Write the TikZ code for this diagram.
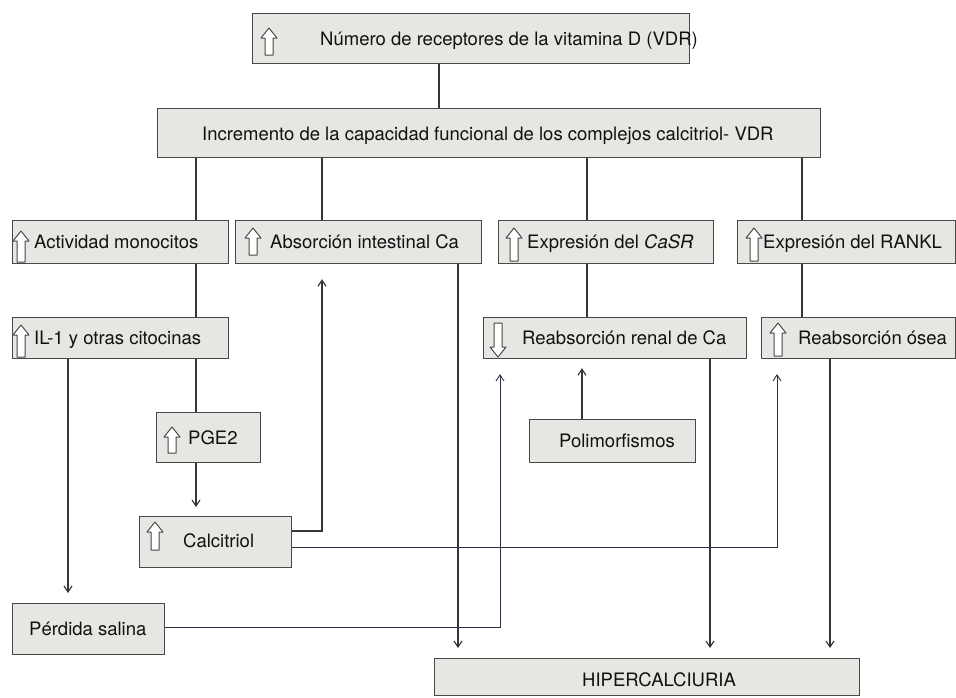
\documentclass[tikz,border=0pt]{standalone}
\usepackage{fontspec}
\setmainfont{TeX Gyre Heros}
\usetikzlibrary{arrows.meta}
\definecolor{boxfill}{HTML}{E8E6E3}
\definecolor{boxline}{HTML}{474747}
\definecolor{conncol}{HTML}{35373D}
\definecolor{navycol}{HTML}{2A3042}
\definecolor{txtcol}{HTML}{111111}
\begin{document}
\begin{tikzpicture}[x=1pt,y=-1pt,
  box/.style={draw=boxline, line width=1.2pt, fill=boxfill, anchor=north west, inner sep=0pt},
  lbl/.style={anchor=base west, inner sep=0pt, text=txtcol, font=\fontsize{18.5}{22}\selectfont},
  conn/.style={draw=conncol, line width=1.15pt},
  navy/.style={draw=navycol, line width=0.9pt},
  arr/.style={conn, -{Straight Barb[length=6pt,width=8pt]}},
  icon/.style={draw=boxline, line width=1pt, fill=white, line join=round},
  pics/upicon/.style={code={\draw[icon] (8,0) -- (16,10) -- (12,10) -- (12,#1) -- (4,#1) -- (4,10) -- (0,10) -- cycle;}},
  pics/downicon/.style={code={\draw[icon] (8,#1) -- (16,{#1-10}) -- (12,{#1-10}) -- (12,0) -- (4,0) -- (4,{#1-10}) -- (0,{#1-10}) -- cycle;}}
]
\useasboundingbox (0,0) rectangle (956,697);

% boxes
\node[box, minimum width=437pt, minimum height=50pt] (vdr) at (252,13) {};
\node[box, minimum width=663pt, minimum height=49pt] (inc) at (157,108) {};
\node[box, minimum width=216pt, minimum height=43pt] (act) at (12,220) {};
\node[box, minimum width=246pt, minimum height=43pt] (abs) at (235,220) {};
\node[box, minimum width=215pt, minimum height=43pt] (casr) at (498,220) {};
\node[box, minimum width=218pt, minimum height=43pt] (rankl) at (737,220) {};
\node[box, minimum width=216pt, minimum height=41pt] (il1) at (12,317) {};
\node[box, minimum width=263pt, minimum height=41pt] (renal) at (483,317) {};
\node[box, minimum width=194pt, minimum height=41pt] (osea) at (761,317) {};
\node[box, minimum width=104pt, minimum height=50pt] (pge2) at (156,412) {};
\node[box, minimum width=166pt, minimum height=43pt] (poli) at (529,419) {};
\node[box, minimum width=152pt, minimum height=51pt] (calc) at (139,516) {};
\node[box, minimum width=152pt, minimum height=51pt] (perd) at (12,603) {};
\node[box, minimum width=425pt, minimum height=37pt] (hiper) at (434,658) {};

% icons
\pic at (261,28) {upicon=27};
\pic at (13,231) {upicon=31};
\pic at (245,228) {upicon=27};
\pic at (506,228) {upicon=33};
\pic at (746,228) {upicon=33};
\pic at (13,325) {upicon=32};
\pic at (490,323) {downicon=34};
\pic at (770,323) {upicon=33};
\pic at (164,427) {upicon=26};
\pic at (147,522) {upicon=28};

% labels
\node[lbl] (vdr-t) at (320,45) {Número de receptores de la vitamina D (VDR)};
\node[lbl] (inc-t) at (202,140) {Incremento de la capacidad funcional de los complejos calcitriol- VDR};
\node[lbl] (act-t) at (34,248) {Actividad monocitos};
\node[lbl] (abs-t) at (270,248) {Absorción intestinal Ca};
\node[lbl] (casr-t) at (527,248) {Expresión del \textit{CaSR}};
\node[lbl] (rankl-t) at (763,248) {Expresión del RANKL};
\node[lbl] (il1-t) at (34,344) {IL-1 y otras citocinas};
\node[lbl] (renal-t) at (522,344) {Reabsorción renal de Ca};
\node[lbl] (osea-t) at (798,344) {Reabsorción ósea};
\node[lbl] (pge2-t) at (188,444) {PGE2};
\node[lbl] (poli-t) at (559,447) {Polimorfismos};
\node[lbl] (calc-t) at (183,547) {Calcitriol};
\node[lbl] (perd-t) at (29,635) {Pérdida salina};
\node[lbl] (hiper-t) at (582,686) {HIPERCALCIURIA};

% column / row helper coordinates
\coordinate (xv) at (439,0);
\coordinate (xA) at (196,0);
\coordinate (xB) at (322,0);
\coordinate (xC) at (587,0);
\coordinate (xD) at (802,0);
\coordinate (xP) at (68,0);
\coordinate (xQ) at (458,0);
\coordinate (xR) at (500,0);
\coordinate (xS) at (582,0);
\coordinate (xT) at (710,0);
\coordinate (xU) at (777,0);
\coordinate (xV) at (830,0);
\coordinate (r1) at (0,531);
\coordinate (r2) at (0,547);
\coordinate (r3) at (0,627);

% plain connectors
\draw[conn] (vdr.south -| xv) -- (inc.north -| xv);
\draw[conn] (inc.south -| xA) -- (act.north -| xA);
\draw[conn] (inc.south -| xB) -- (abs.north -| xB);
\draw[conn] (inc.south -| xC) -- (casr.north -| xC);
\draw[conn] (inc.south -| xD) -- (rankl.north -| xD);
\draw[conn] (act.south -| xA) -- (il1.north -| xA);
\draw[conn] (il1.south -| xA) -- (pge2.north -| xA);
\draw[conn] (casr.south -| xC) -- (renal.north -| xC);
\draw[conn] (rankl.south -| xD) -- (osea.north -| xD);

% arrows
\draw[arr, shorten >=9pt] (pge2.south -| xA) -- (calc.north -| xA);
\draw[arr, shorten >=10pt] (il1.south -| xP) -- (perd.north -| xP);
\draw[arr, shorten >=10pt] (abs.south -| xQ) -- (hiper.north -| xQ);
\draw[arr, shorten >=10pt] (renal.south -| xT) -- (hiper.north -| xT);
\draw[arr, shorten >=10pt] (osea.south -| xV) -- (hiper.north -| xV);
\draw[arr, shorten >=9pt] (poli.north -| xS) -- (renal.south -| xS);
\draw[arr, shorten >=15pt] (calc.east |- r1) -| (abs.south -| xB);
\draw[arr, navy, shorten >=15pt] (calc.east |- r2) -| (osea.south -| xU);
\draw[arr, navy, shorten >=15pt] (perd.east |- r3) -| (renal.south -| xR);
\end{tikzpicture}
\end{document}
